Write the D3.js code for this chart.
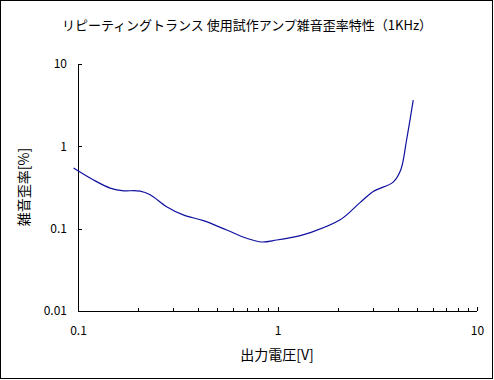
<!DOCTYPE html>
<html><head><meta charset="utf-8">
<script src="https://cdn.jsdelivr.net/npm/d3@7"></script>
<style>
html,body{margin:0;padding:0;background:#fff;}
text{font-family:"Noto Sans CJK JP","Noto Sans",sans-serif;fill:#000;}
</style></head>
<body>
<svg id="c" width="494" height="380"></svg>
<script>
const titleText = "リピーティングトランス 使用試作アンプ雑音歪率特性（1KHz）";
const xLabel = "出力電圧[V]";
const yLabel = "雑音歪率[%]";
const xTicks = [0.1, 1, 10];
const xTickLabels = ["0.1", "1", "10"];
const yTicks = [0.01, 0.1, 1, 10];
const yTickLabels = ["0.01", "0.1", "1", "10"];
const voltage = [0.095, 0.119, 0.145, 0.166, 0.205, 0.230, 0.278, 0.337, 0.425, 0.556, 0.701, 0.833, 0.991, 1.30, 1.46, 2.06, 2.59, 3.02, 3.80, 4.15, 4.44, 4.79];
const distortion = [0.545, 0.393, 0.311, 0.290, 0.286, 0.258, 0.185, 0.147, 0.125, 0.0964, 0.0764, 0.0689, 0.0728, 0.0822, 0.0894, 0.128, 0.207, 0.283, 0.368, 0.52, 1.21, 3.64];

const svg = d3.select("#c");
const L = 78, R = 477, T = 64, B = 311;
const x = d3.scaleLog().domain([0.1, 10]).range([L, R]);
const y = d3.scaleLog().domain([0.01, 10]).range([B, T]);

svg.append("rect").attr("x",0.5).attr("y",0.5).attr("width",492).attr("height",378)
  .attr("fill","#fff").attr("stroke","#000").attr("stroke-width",1);

svg.append("text").attr("x",247).attr("y",30).attr("text-anchor","middle")
  .attr("font-size",13).text(titleText);

// x axis
const xMinor = [];
for (let d = 0.1; d < 10; d *= 10) for (let k = 2; k <= 9; k++) xMinor.push(+(d*k).toPrecision(3));
const gx = svg.append("g").attr("transform",`translate(0,${B})`);
gx.call(d3.axisBottom(x).tickValues(xMinor).tickSize(-3).tickFormat(""));
gx.call(g=>{});
const gx2 = svg.append("g").attr("transform",`translate(0,${B})`)
  .call(d3.axisBottom(x).tickValues(xTicks).tickSize(-4).tickPadding(0).tickFormat((d,i)=>xTickLabels[i]));
[gx, gx2].forEach(g=>{
  g.selectAll("path,line").attr("stroke","#000").attr("shape-rendering","crispEdges");
});
gx.select(".domain").remove();
gx2.select(".domain").attr("d",`M${L},0.5H${R}`);
gx2.selectAll("text").attr("y",20).attr("dy","0.32em").attr("font-size",12)
  .style("font-family",'"Noto Sans CJK JP","Noto Sans",sans-serif');

// y axis
const gy = svg.append("g").attr("transform",`translate(${L},0)`)
  .call(d3.axisLeft(y).tickValues(yTicks).tickSize(-4).tickPadding(0).tickFormat((d,i)=>yTickLabels[i]));
gy.selectAll("path,line").attr("stroke","#000").attr("shape-rendering","crispEdges");
gy.select(".domain").attr("d",`M0.5,${T}V${B}`);
gy.selectAll("text").attr("x",-11).attr("font-size",12)
  .style("font-family",'"Noto Sans CJK JP","Noto Sans",sans-serif');

svg.append("text").attr("x",277).attr("y",360).attr("text-anchor","middle")
  .attr("font-size",14).text(xLabel);
svg.append("text").attr("transform","translate(29,187) rotate(-90)").attr("text-anchor","middle")
  .attr("font-size",14).text(yLabel);

const data = voltage.map((v,i)=>[v, distortion[i]]);
const line = d3.line().x(d=>x(d[0])).y(d=>y(d[1])).curve(d3.curveCatmullRom.alpha(0.5));
svg.append("path").datum(data).attr("d",line).attr("fill","none")
  .attr("stroke","#1010a0").attr("stroke-width",1.2);
</script>
</body></html>
